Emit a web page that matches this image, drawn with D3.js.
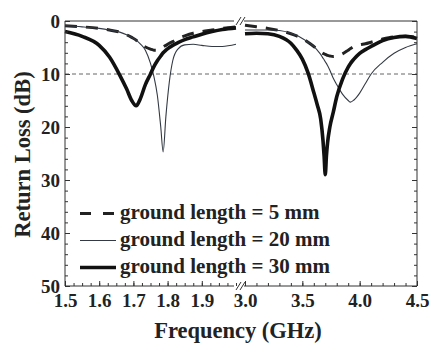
<!DOCTYPE html>
<html>
<head>
<meta charset="utf-8">
<script src="https://cdn.jsdelivr.net/npm/d3@7"></script>
<style>
  html, body { margin: 0; padding: 0; background: #fff; }
  text { font-family: "Liberation Serif", "Times New Roman", serif; font-weight: bold; fill: #222; }
</style>
</head>
<body>
<div id="main_chart"></div>
<script>
// Frequencies (GHz) for the two sides of the broken axis.
const freqLow = [1.50, 1.55, 1.60, 1.63, 1.66, 1.68, 1.695, 1.708, 1.72, 1.735, 1.75, 1.76, 1.77, 1.78, 1.787, 1.795, 1.805, 1.815, 1.83, 1.85, 1.875, 1.90, 1.93, 1.96, 2.00];
const freqHigh = [3.0, 3.1, 3.2, 3.3, 3.4, 3.45, 3.5, 3.55, 3.6, 3.63, 3.66, 3.68, 3.69, 3.70, 3.71, 3.72, 3.74, 3.77, 3.8, 3.85, 3.9, 3.92, 3.95, 4.0, 4.05, 4.1, 4.2, 4.3, 4.4, 4.5];

// Return loss (dB), ground length = 5 mm
const rl5Low = [0.9, 1.1, 1.4, 1.7, 2.1, 2.6, 3.1, 3.6, 4.3, 4.9, 5.3, 5.5, 5.5, 5.2, 4.9, 4.6, 4.2, 3.9, 3.3, 2.8, 2.3, 2.0, 1.7, 1.4, 1.1];
const rl5High = [0.8, 1.1, 1.4, 1.8, 2.4, 2.8, 3.3, 4.0, 4.8, 5.3, 5.8, 6.1, 6.2, 6.3, 6.4, 6.5, 6.6, 6.7, 6.6, 6.2, 5.5, 5.2, 4.8, 4.5, 4.3, 4.0, 3.4, 3.0, 2.9, 3.1];

// ground length = 20 mm
const rl20Low = [0.9, 1.1, 1.4, 1.7, 2.1, 2.6, 3.1, 3.6, 4.3, 5.5, 8.0, 10.5, 14.0, 20.0, 24.7, 18.0, 11.5, 7.5, 5.3, 4.5, 4.4, 4.6, 4.8, 4.8, 4.4];
const rl20High = [1.7, 1.7, 1.7, 1.8, 2.3, 2.7, 3.3, 4.0, 4.8, 5.5, 6.3, 7.0, 7.3, 7.7, 8.0, 8.4, 9.3, 10.8, 12.0, 13.8, 15.0, 15.3, 14.9, 13.6, 11.8, 10.0, 7.8, 6.1, 5.0, 4.3];

// ground length = 30 mm
const rl30Low = [2.0, 2.9, 4.6, 6.8, 10.2, 12.8, 15.0, 16.0, 14.7, 12.0, 10.0, 8.6, 7.5, 6.6, 6.0, 5.5, 5.0, 4.6, 4.1, 3.5, 3.0, 2.5, 2.0, 1.6, 1.3];
const rl30High = [2.4, 2.3, 2.4, 2.9, 4.2, 5.5, 7.2, 9.8, 13.5, 15.8, 18.5, 22.5, 25.5, 29.0, 25.5, 23.0, 20.0, 17.2, 14.3, 11.0, 8.7, 8.0, 7.2, 6.1, 5.4, 4.8, 3.7, 3.1, 2.9, 3.3];

const xTicksLow = [1.5, 1.6, 1.7, 1.8, 1.9];
const xTicksHigh = [3.0, 3.5, 4.0, 4.5];
const yTicks = [0, 10, 20, 30, 40, 50];
const refLevel = 10;
const legendLabels = ["ground length = 5 mm", "ground length = 20 mm", "ground length = 30 mm"];

function App() {
  const width = 432;
  const height = 344;
  const left = 65;
  const right = 417;
  const top = 21;
  const bottom = 286;
  const breakLeft = 236;
  const breakRight = 245;

  // x scales, one for each side of the break
  const x1 = d3.scaleLinear().domain([1.5, 2.0]).range([left, breakLeft]);
  const x2 = d3.scaleLinear().domain([3.0, 4.5]).range([breakRight, right]);

  // y scale, 0 dB at the top
  const y = d3.scaleLinear().domain([0, 50]).range([top, bottom]);

  const svg = d3.create("svg").attr("width", width).attr("height", height);

  const ink = "#222";

  // reference line at 10 dB
  svg.append("line")
    .attr("x1", left).attr("x2", right)
    .attr("y1", y(refLevel)).attr("y2", y(refLevel))
    .attr("stroke", "#555")
    .attr("stroke-width", 0.9)
    .attr("stroke-dasharray", "4,3");

  const series = [
    { low: rl5Low, high: rl5High, width: 3, dash: "12,9", color: ink },
    { low: rl20Low, high: rl20High, width: 1.1, dash: null, color: "#333a44" },
    { low: rl30Low, high: rl30High, width: 3.6, dash: null, color: "#111" }
  ];

  const lineLow = d3.line()
    .x((d) => x1(d[0]))
    .y((d) => y(d[1]))
    .curve(d3.curveMonotoneX);
  const lineHigh = d3.line()
    .x((d) => x2(d[0]))
    .y((d) => y(d[1]))
    .curve(d3.curveMonotoneX);

  series.forEach((s) => {
    [[lineLow, d3.zip(freqLow, s.low)], [lineHigh, d3.zip(freqHigh, s.high)]].forEach(([gen, pts]) => {
      svg.append("path")
        .attr("fill", "none")
        .attr("stroke", s.color)
        .attr("stroke-width", s.width)
        .attr("stroke-dasharray", s.dash)
        .attr("stroke-linejoin", "round")
        .attr("d", gen(pts));
    });
  });

  // axes with inward ticks
  const styleAxis = (g) => {
    g.select(".domain").remove();
    g.selectAll(".tick line").attr("stroke", "#333");
    g.selectAll("text").attr("font-size", 19).attr("fill", ink).attr("font-family", null);
  };

  svg.append("g")
    .attr("transform", `translate(0,${bottom})`)
    .call(d3.axisBottom(x1).tickValues(d3.range(1.5, 2.0001, 0.025)).tickSizeInner(-3).tickSizeOuter(0).tickFormat(""))
    .call(styleAxis);
  svg.append("g")
    .attr("transform", `translate(0,${bottom})`)
    .call(d3.axisBottom(x1).tickValues(xTicksLow).tickSizeInner(-5).tickSizeOuter(0).tickPadding(8).tickFormat(d3.format(".1f")))
    .call(styleAxis);
  svg.append("g")
    .attr("transform", `translate(0,${bottom})`)
    .call(d3.axisBottom(x2).tickValues(d3.range(3.0, 4.5001, 0.1)).tickSizeInner(-3).tickSizeOuter(0).tickFormat(""))
    .call(styleAxis);
  svg.append("g")
    .attr("transform", `translate(0,${bottom})`)
    .call(d3.axisBottom(x2).tickValues(xTicksHigh).tickSizeInner(-5).tickSizeOuter(0).tickPadding(8).tickFormat(d3.format(".1f")))
    .call(styleAxis);

  svg.append("g")
    .attr("transform", `translate(${left},0)`)
    .call(d3.axisLeft(y).tickValues(d3.range(0, 51, 2)).tickSizeInner(-3).tickSizeOuter(0).tickFormat(""))
    .call(styleAxis);
  svg.append("g")
    .attr("transform", `translate(${left},0)`)
    .call(d3.axisLeft(y).tickValues(yTicks).tickSizeInner(-5).tickSizeOuter(0).tickPadding(5))
    .call(styleAxis);
  svg.append("g")
    .attr("transform", `translate(${right},0)`)
    .call(d3.axisRight(y).tickValues(d3.range(0, 51, 2)).tickSizeInner(-3).tickSizeOuter(0).tickFormat(""))
    .call(styleAxis);
  svg.append("g")
    .attr("transform", `translate(${right},0)`)
    .call(d3.axisRight(y).tickValues(yTicks).tickSizeInner(-5).tickSizeOuter(0).tickFormat(""))
    .call(styleAxis);

  // frame, broken between the two frequency ranges
  const frame = svg.append("g").attr("stroke", "#333").attr("stroke-width", 1).attr("fill", "none");
  frame.append("path").attr("d", `M${breakLeft - 2},${top}H${left}V${bottom}H${breakLeft - 2}`);
  frame.append("path").attr("d", `M${breakRight - 1},${top}H${right}V${bottom}H${breakRight - 1}`);

  // break marks "//"
  const bx = (breakLeft + breakRight) / 2;
  [top, bottom].forEach((yy) => {
    [-2, 2].forEach((off) => {
      frame.append("line")
        .attr("x1", bx + off - 2.5).attr("y1", yy + 4)
        .attr("x2", bx + off + 2.5).attr("y2", yy - 4);
    });
  });

  // legend
  const legend = svg.append("g");
  legendLabels.forEach((label, i) => {
    const ly = 213.5 + i * 27;
    const s = series[i];
    legend.append("line")
      .attr("x1", 80).attr("x2", 116)
      .attr("y1", ly).attr("y2", ly)
      .attr("stroke", s.color)
      .attr("stroke-width", s.width)
      .attr("stroke-dasharray", s.dash ? "11,12" : null);
    legend.append("text")
      .attr("x", 120)
      .attr("y", ly + 5.5)
      .attr("font-size", 21)
      .text(label);
  });

  // axis titles
  svg.append("text")
    .attr("x", 238)
    .attr("y", 338)
    .attr("text-anchor", "middle")
    .attr("font-size", 22.5)
    .text("Frequency (GHz)");
  svg.append("text")
    .attr("transform", `translate(30,${(top + bottom) / 2 + 1}) rotate(-90)`)
    .attr("text-anchor", "middle")
    .attr("font-size", 22.5)
    .text("Return Loss (dB)");

  document.getElementById("main_chart").append(svg.node());
}

App();
</script>
</body>
</html>
